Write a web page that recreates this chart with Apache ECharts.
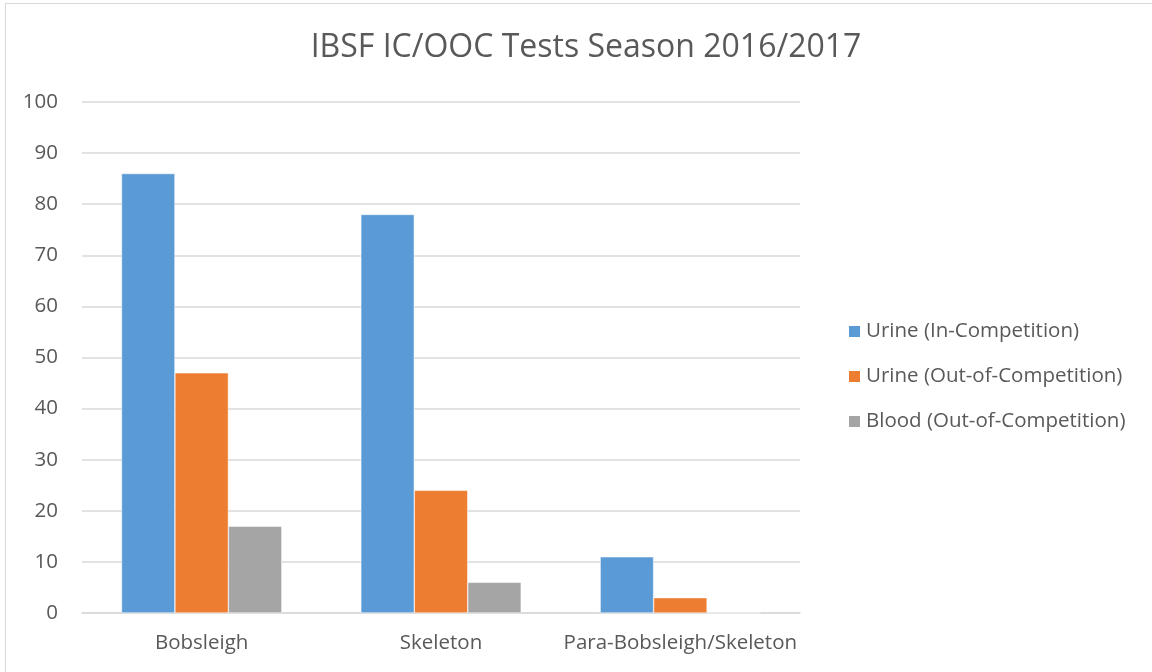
<!DOCTYPE html>
<html>
<head>
<meta charset="utf-8">
<script src="https://cdn.jsdelivr.net/npm/echarts@6/dist/echarts.min.js"></script>
<style>
  html, body { margin: 0; padding: 0; background: #fff; }
  #frame { position: absolute; left: 5px; top: 3px; width: 1160px; height: 680px; border: 1px solid #d9d9d9; box-sizing: border-box; }
  #chart { position: absolute; left: 0; top: 0; width: 1152px; height: 672px; }
</style>
</head>
<body>
<div id="frame"></div>
<div id="chart"></div>
<script>
// chart data
const categories = ["Bobsleigh", "Skeleton", "Para-Bobsleigh/Skeleton"];
const seriesNames = ["Urine (In-Competition)", "Urine (Out-of-Competition)", "Blood (Out-of-Competition)"];
const urineIC = [86, 78, 11];
const urineOOC = [47, 24, 3];
const bloodOOC = [17, 6, 0];
const colors = ["#5b9bd5", "#ed7d31", "#a5a5a5"];

const font = "Open Sans";
const textColor = "#595959";

const chart = echarts.init(document.getElementById("chart"), null, { renderer: "canvas" });

const seriesData = [urineIC, urineOOC, bloodOOC];

chart.setOption({
  animation: false,
  title: {
    text: "IBSF IC/OOC Tests Season 2016/2017",
    left: 581,
    top: 27,
    textAlign: "center",
    textStyle: { color: textColor, fontFamily: font, fontSize: 32, fontWeight: "normal" },
  },
  legend: {
    orient: "vertical",
    left: 842,
    top: 316,
    itemWidth: 13,
    itemHeight: 13,
    itemGap: 24,
    icon: "rect",
    data: seriesNames,
    textStyle: { color: textColor, fontFamily: font, fontSize: 20.5, padding: [0, 0, 0, 0] },
  },
  grid: { left: 82, right: 352, top: 102, bottom: 59, containLabel: false },
  xAxis: {
    type: "category",
    data: categories,
    axisLine: { lineStyle: { color: "#d9d9d9", width: 1.5 } },
    axisTick: { show: false },
    axisLabel: { color: textColor, fontFamily: font, fontSize: 20.5, margin: 20, interval: 0 },
  },
  yAxis: {
    type: "value",
    min: 0,
    max: 100,
    interval: 10,
    axisLine: { show: false },
    axisTick: { show: false },
    splitLine: { lineStyle: { color: "#d9d9d9", width: 1.5 } },
    axisLabel: { color: textColor, fontFamily: font, fontSize: 20.5, margin: 24 },
  },
  series: seriesNames.map((name, i) => ({
    name: name,
    type: "bar",
    data: seriesData[i],
    barGap: "0%",
    barCategoryGap: "33%",
    itemStyle: { color: colors[i], borderColor: "#fff", borderWidth: 0.5 },
  })),
});
</script>
</body>
</html>
